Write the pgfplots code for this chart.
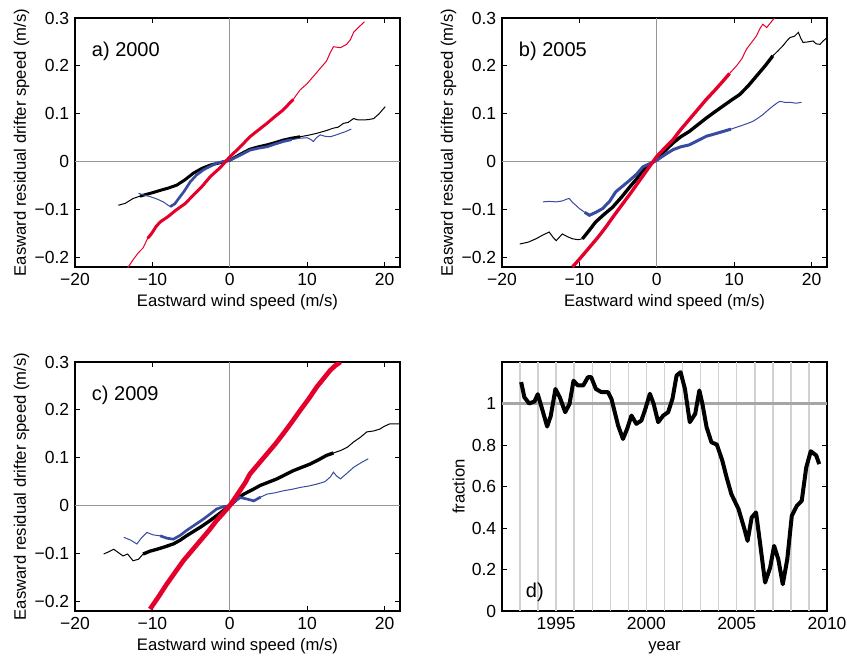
\documentclass[border=0pt]{standalone}
\usepackage{fontspec}
\setmainfont{Liberation Sans}
\usepackage{pgfplots}
\pgfplotsset{compat=1.18}
\usepackage{pgfplotstable}

\definecolor{mred}{RGB}{228,0,43}
\definecolor{mblue}{RGB}{55,75,160}
\definecolor{zgray}{RGB}{150,150,150}
\definecolor{ygrid}{RGB}{210,210,210}

% ---- panel a) 2000
\pgfplotstableread{
x y
-13.2 -0.222
-12.5 -0.205
-11.8 -0.19
-11.2 -0.18
-10.6 -0.16
-10.1 -0.15
-9.5 -0.135
-9.0 -0.126
-8.0 -0.115
-6.85 -0.10
-5.8 -0.088
-4.7 -0.07
-3.6 -0.052
-2.5 -0.031
-1.2 -0.012
0 0.01
1.3 0.03
2.6 0.052
3.7 0.066
4.8 0.08
5.9 0.095
6.9 0.108
8.2 0.13
9.1 0.15
10.0 0.163
10.8 0.178
11.7 0.195
12.5 0.21
13.0 0.228
13.4 0.24
14.3 0.238
15.1 0.245
15.6 0.255
16.0 0.27
16.8 0.283
17.4 0.292
}\aRed
\pgfplotstableread{
x y
-14.4 -0.091
-13.5 -0.087
-12.5 -0.077
-11.6 -0.072
-10.7 -0.068
-9.8 -0.064
-9.0 -0.060
-7.9 -0.055
-6.85 -0.049
-5.8 -0.038
-4.7 -0.024
-3.6 -0.014
-2.5 -0.007
-1.2 -0.002
0 0.003
1.3 0.015
2.6 0.026
3.7 0.031
4.8 0.035
5.9 0.040
6.9 0.045
8.0 0.049
9.1 0.052
10.1 0.055
11.2 0.059
12.3 0.064
13.4 0.07
14.0 0.072
14.7 0.08
15.3 0.082
16.0 0.09
16.6 0.087
17.3 0.087
18.0 0.088
18.6 0.09
19.3 0.1
20.1 0.115
}\aBlack
\pgfplotstableread{
x y
-11.8 -0.066
-11.0 -0.07
-10.3 -0.073
-9.4 -0.078
-8.6 -0.084
-7.7 -0.094
-7.1 -0.088
-6.6 -0.077
-5.9 -0.062
-5.1 -0.042
-4.3 -0.028
-3.4 -0.017
-1.7 -0.003
0 0.003
1.3 0.013
2.6 0.024
3.7 0.028
4.8 0.031
5.9 0.037
6.9 0.042
8.0 0.046
9.1 0.049
10.0 0.05
10.5 0.046
10.8 0.042
11.2 0.05
11.7 0.056
12.3 0.053
13.0 0.052
13.6 0.055
14.3 0.059
15.0 0.063
15.7 0.068
}\aBlue

% ---- panel b) 2005
\pgfplotstableread{
x y
-10.9 -0.22
-9.8 -0.2
-8.7 -0.179
-7.6 -0.158
-6.6 -0.137
-5.5 -0.112
-4.4 -0.088
-3.3 -0.064
-2.2 -0.039
-1.1 -0.014
0 0.011
1.0 0.028
2.1 0.046
3.1 0.067
4.2 0.088
5.3 0.109
6.4 0.13
7.5 0.149
8.55 0.168
9.4 0.184
10.3 0.2
11.0 0.215
11.6 0.235
12.3 0.25
12.9 0.263
13.3 0.277
13.7 0.287
14.2 0.28
14.7 0.29
15.2 0.3
}\bRed
\pgfplotstableread{
x y
-17.7 -0.172
-16.6 -0.168
-15.6 -0.161
-14.7 -0.153
-13.9 -0.147
-13.4 -0.158
-13.0 -0.165
-12.6 -0.158
-12.2 -0.151
-11.5 -0.157
-10.9 -0.161
-10.2 -0.163
-9.6 -0.161
-8.8 -0.145
-7.9 -0.126
-6.8 -0.11
-5.7 -0.095
-4.6 -0.075
-3.5 -0.053
-2.6 -0.036
-1.8 -0.018
-0.9 -0.006
0 0.005
1.0 0.022
2.1 0.039
3.1 0.052
4.2 0.063
5.3 0.077
6.4 0.091
7.5 0.104
8.55 0.116
9.6 0.128
10.7 0.14
11.8 0.158
12.9 0.179
14.0 0.2
15.0 0.221
15.7 0.232
16.3 0.242
16.8 0.252
17.2 0.259
17.8 0.262
18.3 0.27
18.6 0.258
18.9 0.249
19.5 0.25
20.2 0.252
20.6 0.246
21.1 0.245
21.5 0.252
22.0 0.259
}\bBlack
\pgfplotstableread{
x y
-14.7 -0.084
-13.9 -0.083
-13.0 -0.084
-12.2 -0.082
-11.6 -0.078
-11.3 -0.077
-10.9 -0.085
-10.4 -0.092
-10.0 -0.098
-9.3 -0.106
-8.7 -0.112
-7.9 -0.106
-7.0 -0.098
-6.1 -0.083
-5.3 -0.063
-4.4 -0.051
-3.5 -0.039
-2.6 -0.026
-1.8 -0.011
-0.9 -0.004
0 0.003
1.0 0.014
2.1 0.025
3.1 0.031
4.2 0.035
5.3 0.044
6.4 0.053
7.5 0.058
8.55 0.063
9.6 0.068
10.7 0.074
11.6 0.079
12.4 0.084
13.0 0.09
13.7 0.098
14.4 0.108
15.0 0.116
15.5 0.122
15.9 0.126
16.5 0.124
17.2 0.124
18.0 0.122
18.7 0.124
}\bBlue

% ---- panel c) 2009
\pgfplotstableread{
x y
-10.3 -0.216
-9.2 -0.19
-8.15 -0.164
-7.1 -0.14
-6.0 -0.115
-4.9 -0.094
-3.8 -0.073
-2.7 -0.052
-1.7 -0.031
-0.8 -0.015
0 0.0
0.6 0.014
1.3 0.031
2.0 0.048
2.6 0.066
3.7 0.087
4.8 0.108
5.9 0.129
6.9 0.15
8.0 0.174
9.1 0.199
10.2 0.223
11.25 0.248
12.1 0.265
13.0 0.283
13.6 0.292
14.3 0.3
}\cRed
\pgfplotstableread{
x y
-16.3 -0.101
-15.6 -0.096
-15.0 -0.091
-14.4 -0.098
-13.8 -0.105
-13.2 -0.101
-12.5 -0.115
-11.8 -0.112
-11.2 -0.101
-10.3 -0.095
-9.4 -0.091
-8.4 -0.086
-7.3 -0.08
-6.4 -0.072
-5.6 -0.063
-4.7 -0.054
-3.8 -0.045
-2.7 -0.033
-1.7 -0.021
-0.8 -0.01
0 0.0
0.9 0.013
1.8 0.024
2.9 0.033
3.9 0.042
5.0 0.049
6.1 0.056
7.2 0.065
8.2 0.073
9.3 0.08
10.4 0.087
11.5 0.096
12.5 0.105
13.4 0.11
14.3 0.115
15.2 0.122
16.0 0.133
16.9 0.143
17.7 0.154
18.6 0.156
19.4 0.16
20.0 0.166
20.7 0.171
22.0 0.171
}\cBlack
\pgfplotstableread{
x y
-13.7 -0.066
-12.8 -0.072
-12.0 -0.08
-11.4 -0.067
-10.7 -0.056
-9.9 -0.061
-9.0 -0.063
-8.1 -0.068
-7.3 -0.07
-6.4 -0.062
-5.6 -0.052
-4.5 -0.04
-3.4 -0.028
-2.5 -0.017
-1.7 -0.007
-0.8 -0.002
0 0.0
0.6 0.008
1.3 0.017
2.2 0.014
3.1 0.010
4.0 0.018
4.8 0.024
5.9 0.027
6.9 0.031
8.0 0.034
9.1 0.038
10.2 0.041
11.25 0.045
12.3 0.05
13.0 0.06
13.4 0.07
13.8 0.062
14.3 0.056
15.1 0.067
16.0 0.08
17.0 0.09
17.9 0.098
}\cBlue

% ---- panel d) fraction
\pgfplotstableread{
x y
1993.06 1.103
1993.24 1.03
1993.5 1.0
1993.8 1.01
1993.98 1.045
1994.2 0.98
1994.5 0.889
1994.7 0.94
1994.96 1.07
1995.2 1.03
1995.5 0.958
1995.74 0.998
1995.96 1.11
1996.2 1.087
1996.5 1.087
1996.76 1.127
1996.94 1.127
1997.2 1.07
1997.5 1.055
1997.87 1.055
1998.06 1.022
1998.43 0.894
1998.7 0.829
1998.93 0.878
1999.17 0.942
1999.44 0.902
1999.72 0.918
1999.94 0.974
2000.19 1.047
2000.4 0.998
2000.65 0.91
2000.93 0.942
2001.2 0.958
2001.44 1.022
2001.67 1.135
2001.89 1.151
2002.13 1.071
2002.4 0.91
2002.7 0.95
2002.93 1.063
2003.1 0.998
2003.33 0.886
2003.6 0.813
2003.9 0.802
2004.2 0.725
2004.44 0.644
2004.7 0.564
2005.1 0.491
2005.4 0.403
2005.6 0.338
2005.83 0.451
2006.07 0.475
2006.3 0.322
2006.57 0.137
2006.85 0.209
2007.07 0.314
2007.3 0.25
2007.55 0.129
2007.8 0.25
2008.05 0.459
2008.33 0.507
2008.6 0.531
2008.85 0.692
2009.1 0.77
2009.4 0.75
2009.57 0.708
}\dFrac

\pgfplotsset{
  mstyle/.style={
    scale only axis, width=195pt, height=149.4pt, anchor=north west,
    axis line style={line width=1pt},
    tick align=inside, major tick length=3pt,
    tick style={black, line width=0.6pt},
    ticklabel style={font=\fontsize{10.5}{12}\selectfont},
    /pgf/number format/assume math mode=true,
    /pgf/number format/1000 sep={},
    label style={font=\fontsize{10}{12}\selectfont},
    xlabel style={at={(axis description cs:0.5,-0.1606)}, anchor=base},
  },
  wind/.style={
    mstyle,
    xmin=-20, xmax=22, ymin=-0.22, ymax=0.3,
    xtick={-20,-10,0,10,20}, xticklabels={−20,−10,0,10,20},
    ytick={-0.2,-0.1,0,0.1,0.2,0.3}, yticklabels={−0.2,−0.1,0,0.1,0.2,0.3},
    extra x ticks={0}, extra y ticks={0},
    extra x tick labels={}, extra y tick labels={},
    extra tick style={grid=major, major grid style={zgray, line width=0.6pt}, tick style={draw=none}},
    xlabel={Eastward wind speed (m/s)},
    ylabel={Easward residual drifter speed (m/s)},
    ylabel style={at={(axis description cs:-0.1508,0.5)}, anchor=base},
  },
  thin/.style={line width=0.6pt},
}

\begin{document}
\begin{tikzpicture}
\path[use as bounding box] (0,0) rectangle (508.2pt,-393.6pt);

% a)
\begin{axis}[wind, at={(45pt,-10.8pt)}]
\addplot[black, thin] table {\aBlack};
\addplot[black, line width=1.8pt, restrict x to domain=-12:10] table {\aBlack};
\addplot[mblue, thin] table {\aBlue};
\addplot[mblue, line width=1.6pt, restrict x to domain=-8.5:9] table {\aBlue};
\addplot[mred, thin] table {\aRed};
\addplot[mred, line width=1.8pt, restrict x to domain=-11:8.5] table {\aRed};
\node[anchor=base west, font=\fontsize{12}{14}\selectfont] at (axis description cs:0.034,0.845) {a) 2000};
\end{axis}

% b)
\begin{axis}[wind, at={(301.2pt,-10.8pt)}]
\addplot[black, thin] table {\bBlack};
\addplot[black, line width=2pt, restrict x to domain=-10:15.5] table {\bBlack};
\addplot[mblue, thin] table {\bBlue};
\addplot[mblue, line width=1.8pt, restrict x to domain=-9.5:10.5] table {\bBlue};
\addplot[mred, thin] table {\bRed};
\addplot[mred, line width=2pt, restrict x to domain=-11:10] table {\bRed};
\node[anchor=base west, font=\fontsize{12}{14}\selectfont] at (axis description cs:0.034,0.845) {b) 2005};
\end{axis}

% c)
\begin{axis}[wind, at={(45pt,-217.2pt)}]
\addplot[black, thin] table {\cBlack};
\addplot[black, line width=2pt, restrict x to domain=-11.5:14] table {\cBlack};
\addplot[mblue, thin] table {\cBlue};
\addplot[mblue, line width=1.6pt, restrict x to domain=-9.5:4] table {\cBlue};
\addplot[mred, line width=2.8pt] table {\cRed};
\node[anchor=base west, font=\fontsize{12}{14}\selectfont] at (axis description cs:0.034,0.845) {c) 2009};
\end{axis}

% d)
\begin{axis}[mstyle, at={(301.2pt,-217.2pt)},
  xmin=1992, xmax=2010, ymin=0, ymax=1.2,
  xtick={1995,2000,2005,2010},
  ytick={0,0.2,0.4,0.6,0.8,1},
  extra x ticks={1993,1994,...,2009}, extra x tick labels={},
  extra x tick style={grid=major, major grid style={ygrid, line width=0.9pt}, tick style={draw=none}},
  extra y ticks={1}, extra y tick labels={},
  extra y tick style={grid=major, major grid style={zgray!85, line width=1.5pt}, tick style={draw=none}},
  xlabel={year}, ylabel={fraction},
  ylabel style={at={(axis description cs:-0.1149,0.5)}, anchor=base},
]
\addplot[black, line width=2.4pt, line join=round] table {\dFrac};
\node[anchor=base west, font=\fontsize{12}{14}\selectfont] at (axis description cs:0.0554,0.056) {d)};
\end{axis}
\end{tikzpicture}
\end{document}
